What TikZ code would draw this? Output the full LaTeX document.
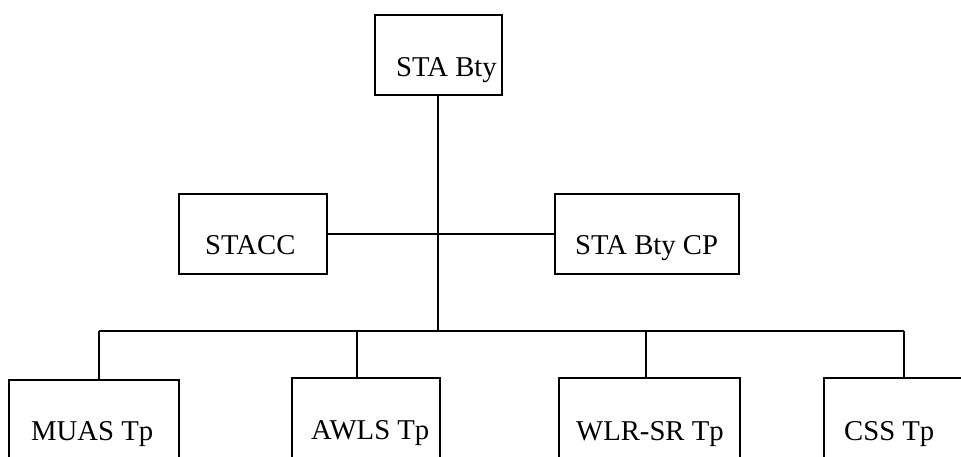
\documentclass[tikz,border=0pt]{standalone}
\usepackage{fontspec}
\setmainfont{Liberation Serif}
\begin{document}
\begin{tikzpicture}[x=1pt,y=-1pt,
  box/.style={draw=black,line width=1.8pt,inner sep=0pt,minimum width=#1,anchor=north west},
  lbl/.style={anchor=base west,inner sep=0pt,font=\fontsize{28.7}{34}\selectfont},
  link/.style={draw=black,line width=1.8pt}]
\useasboundingbox (0,0) rectangle (961,456);
\clip (0,0) rectangle (961,456);
% boxes
\node[box=127pt,minimum height=80pt] (sta)   at (374,14)  {};
\node[box=148pt,minimum height=80pt] (stacc) at (178,193) {};
\node[box=184pt,minimum height=80pt] (cp)    at (554,193) {};
\node[box=170pt,minimum height=100pt] (muas) at (8,379)   {};
\node[box=148pt,minimum height=100pt] (awls) at (291,377) {};
\node[box=181pt,minimum height=100pt] (wlr)  at (558,377) {};
\node[box=160pt,minimum height=100pt] (css)  at (823,377) {};
% labels
\node[lbl] (tsta)   at (396,76)  {STA Bty};
\node[lbl] (tstacc) at (205,254) {STACC};
\node[lbl] (tcp)    at (575,254) {STA Bty CP};
\node[lbl] (tmuas)  at (31,440)  {MUAS Tp};
\node[lbl] (tawls)  at (311,439) {AWLS Tp};
\node[lbl] (twlr)   at (576,440) {WLR-SR Tp};
\node[lbl] (tcss)   at (844,440) {CSS Tp};
% bus coordinates
\coordinate (bmid) at (438,331);
\coordinate (b1) at (99,331);
\coordinate (b2) at (357,331);
\coordinate (b3) at (646,331);
\coordinate (b4) at (904,331);
% connectors
\draw[link] (sta.south -| bmid) -- (bmid);
\draw[link] (stacc.east) -- (cp.west);
\draw[link] (b1) -- (b4);
\draw[link] (b1) -- (b1 |- muas.north);
\draw[link] (b2) -- (b2 |- awls.north);
\draw[link] (b3) -- (b3 |- wlr.north);
\draw[link] (b4) -- (b4 |- css.north);
\end{tikzpicture}
\end{document}
